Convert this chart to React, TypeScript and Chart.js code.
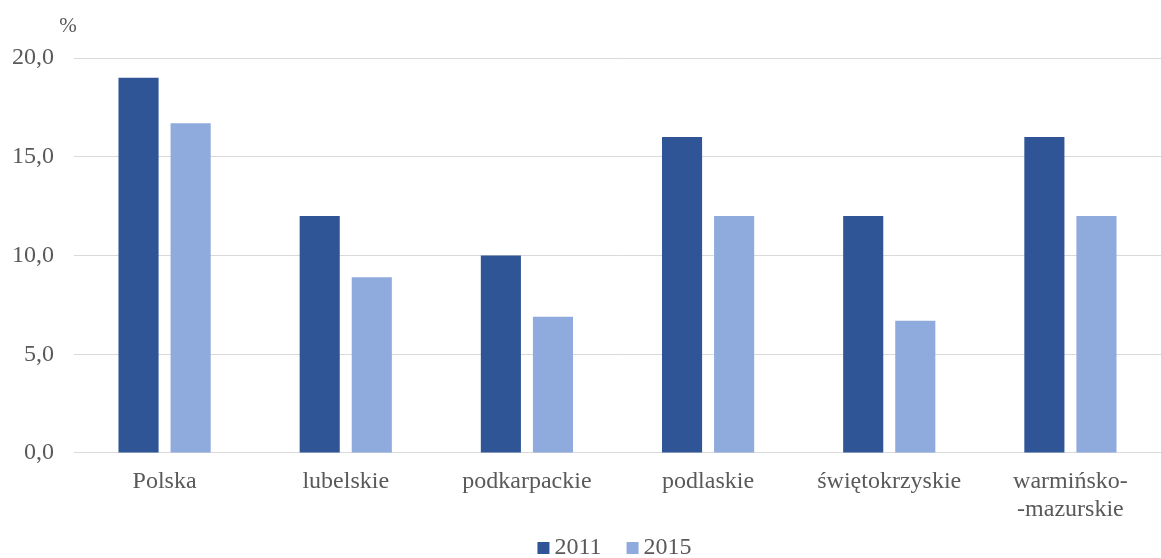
import React, { useEffect, useRef } from "react";
import { Chart, registerables } from "chart.js";

Chart.register(...registerables);

const categories: (string | string[])[] = [
  "Polska",
  "lubelskie",
  "podkarpackie",
  "podlaskie",
  "świętokrzyskie",
  ["warmińsko-", "-mazurskie"],
];
const values2011 = [19.0, 12.0, 10.0, 16.0, 12.0, 16.0];
const values2015 = [16.7, 8.9, 6.9, 12.0, 6.7, 12.0];
const seriesLabels = ["2011", "2015"];
const yTicks = { min: 0, max: 20, step: 5 };
const unitLabel = "%";

const FONT = "'Liberation Serif', 'Times New Roman', serif";
const TEXT = "#595959";

export default function App() {
  const ref = useRef<HTMLCanvasElement | null>(null);
  useEffect(() => {
    document.body.style.margin = "0";
    const unitPlugin = {
      id: "unitLabel",
      afterDraw(chart: any) {
        const { ctx, chartArea } = chart;
        ctx.save();
        ctx.font = `21px ${FONT}`;
        ctx.fillStyle = TEXT;
        ctx.textAlign = "center";
        ctx.textBaseline = "middle";
        ctx.fillText(unitLabel, chartArea.left - 6, chartArea.top - 32);
        ctx.restore();
      },
    };
    const legendPlugin = {
      id: "customLegend",
      afterDraw(chart: any) {
        const { ctx, chartArea, height } = chart;
        const ds = chart.data.datasets;
        ctx.save();
        ctx.font = `24px ${FONT}`;
        ctx.textBaseline = "middle";
        ctx.textAlign = "left";
        const box = 12;
        const gapText = 5;
        const gapItem = 25;
        const widths = ds.map((d: any) => box + gapText + ctx.measureText(d.label).width);
        const total = widths.reduce((a: number, b: number) => a + b, 0) + gapItem * (ds.length - 1);
        let x = (chartArea.left + chartArea.right) / 2 - total / 2 - 3;
        const cy = height - 10;
        ds.forEach((d: any, i: number) => {
          ctx.fillStyle = d.backgroundColor;
          ctx.fillRect(x, cy - box / 2, box, box);
          ctx.fillStyle = TEXT;
          ctx.fillText(d.label, x + box + gapText, cy);
          x += widths[i] + gapItem;
        });
        ctx.restore();
      },
    };
    const chart = new Chart(ref.current!, {
      type: "bar",
      data: {
        labels: categories,
        datasets: [
          {
            label: seriesLabels[0],
            data: values2011,
            backgroundColor: "#2F5597",
            categoryPercentage: 0.575,
            barPercentage: 0.77,
          },
          {
            label: seriesLabels[1],
            data: values2015,
            backgroundColor: "#8FAADC",
            categoryPercentage: 0.575,
            barPercentage: 0.77,
          },
        ],
      },
      options: {
        animation: false,
        responsive: false,
        layout: { padding: { top: 58, right: 0, bottom: 27, left: 0 } },
        plugins: {
          legend: { display: false },
          tooltip: { enabled: false },
        },
        scales: {
          x: {
            grid: { display: false },
            border: { display: false },
            ticks: {
              font: { family: FONT, size: 24, lineHeight: 1.167 },
              color: TEXT,
              padding: 7,
              maxRotation: 0,
              autoSkip: false,
            },
          },
          y: {
            min: yTicks.min,
            max: yTicks.max,
            afterFit: (axis: any) => {
              axis.width = 74;
            },
            grid: { color: "#D9D9D9", lineWidth: 1, drawTicks: false },
            border: { display: false },
            ticks: {
              stepSize: yTicks.step,
              font: { family: FONT, size: 24 },
              color: TEXT,
              padding: 20,
              callback: (v: any) => Number(v).toFixed(1).replace(".", ","),
            },
          },
        },
      },
      plugins: [unitPlugin, legendPlugin],
    });
    return () => chart.destroy();
  }, []);
  return (
    <div style={{ width: 1161, height: 558 }}>
      <canvas ref={ref} width={1161} height={558} />
    </div>
  );
}
